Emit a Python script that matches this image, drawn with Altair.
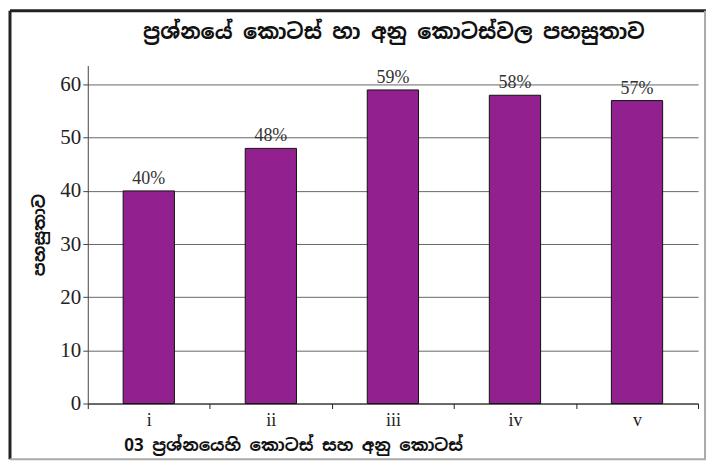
import altair as alt
import pandas as pd

parts = ["i", "ii", "iii", "iv", "v"]
values = [40, 48, 59, 58, 57]
labels = ["40%", "48%", "59%", "58%", "57%"]
y_ticks = [0, 10, 20, 30, 40, 50, 60]

title_text = "ප්‍රශ්නයේ කොටස් හා අනු කොටස්වල පහසුතාව"
x_title = "03 ප්‍රශ්නයෙහි කොටස් සහ අනු කොටස්"
y_title = "පහසුතාව"

df = pd.DataFrame({"part": parts, "value": values, "label": labels})

W, H = 612, 339
SIN = "Noto Sans Sinhala, Noto Serif Sinhala, Iskoola Pota, sans-serif"
SERIF = "Liberation Serif"

x_axis = alt.Axis(
    title=x_title,
    titleFont=SIN,
    titleFontSize=17,
    titleFontWeight="bold",
    titleColor="#111",
    titleX=206,
    titleY=34,
    titleAlign="center",
    labelAngle=0,
    labelFont=SERIF,
    labelFontSize=18,
    labelColor="#222",
    labelPadding=3,
    tickBand="extent",
    tickSize=5,
    tickColor="#222",
    domainColor="#222",
    grid=False,
)
x = alt.X("part:N", sort=parts, scale=alt.Scale(paddingInner=0, paddingOuter=0), axis=x_axis)

y = alt.Y(
    "value:Q",
    scale=alt.Scale(domain=[0, 63.6], nice=False),
    axis=alt.Axis(
        title=y_title,
        titleFont=SIN,
        titleFontSize=17,
        titleFontWeight="bold",
        titleColor="#111",
        titlePadding=11,
        values=y_ticks,
        labelFont=SERIF,
        labelFontSize=21,
        labelColor="#222",
        tickSize=5,
        tickColor="#444",
        domainColor="#444",
        gridColor="#666",
        gridWidth=1,
    ),
)

bars = alt.Chart(df).mark_bar(
    color="#93208F", stroke="#111", strokeWidth=1, width=alt.RelativeBandSize(0.42)
).encode(x=x, y=y)

text = alt.Chart(df).mark_text(
    dy=-12, font=SERIF, fontSize=18, color="#333"
).encode(x=x, y=y, text="label:N")

one = pd.DataFrame({"t": [title_text]})
title = alt.Chart(one).mark_text(
    font=SIN, fontSize=21, fontWeight="bold", color="#111", baseline="middle"
).encode(x=alt.value(307), y=alt.value(-33), text="t:N")

left = alt.Chart(one).mark_rule(color="#222", strokeWidth=3).encode(
    x=alt.value(-78), y=alt.value(-55), y2=alt.value(395)
)
top = alt.Chart(one).mark_rule(color="#222", strokeWidth=3).encode(
    x=alt.value(-78), x2=alt.value(620), y=alt.value(-55)
)
right = alt.Chart(one).mark_rule(color="#aaa", strokeWidth=2).encode(
    x=alt.value(619), y=alt.value(-55), y2=alt.value(395)
)
bottom = alt.Chart(one).mark_rule(color="#aaa", strokeWidth=2).encode(
    x=alt.value(-78), x2=alt.value(620), y=alt.value(395)
)

chart = alt.layer(bars, text, title, left, top, right, bottom).properties(
    width=W,
    height=H,
    background="white",
    autosize=alt.AutoSizeParams(type="none"),
    padding={"left": 80, "top": 57, "right": 12, "bottom": 60},
).configure_view(stroke=None).configure_axis(labelFont=SERIF)

chart.save("out.html", embed_options={"renderer": "svg", "actions": False})
